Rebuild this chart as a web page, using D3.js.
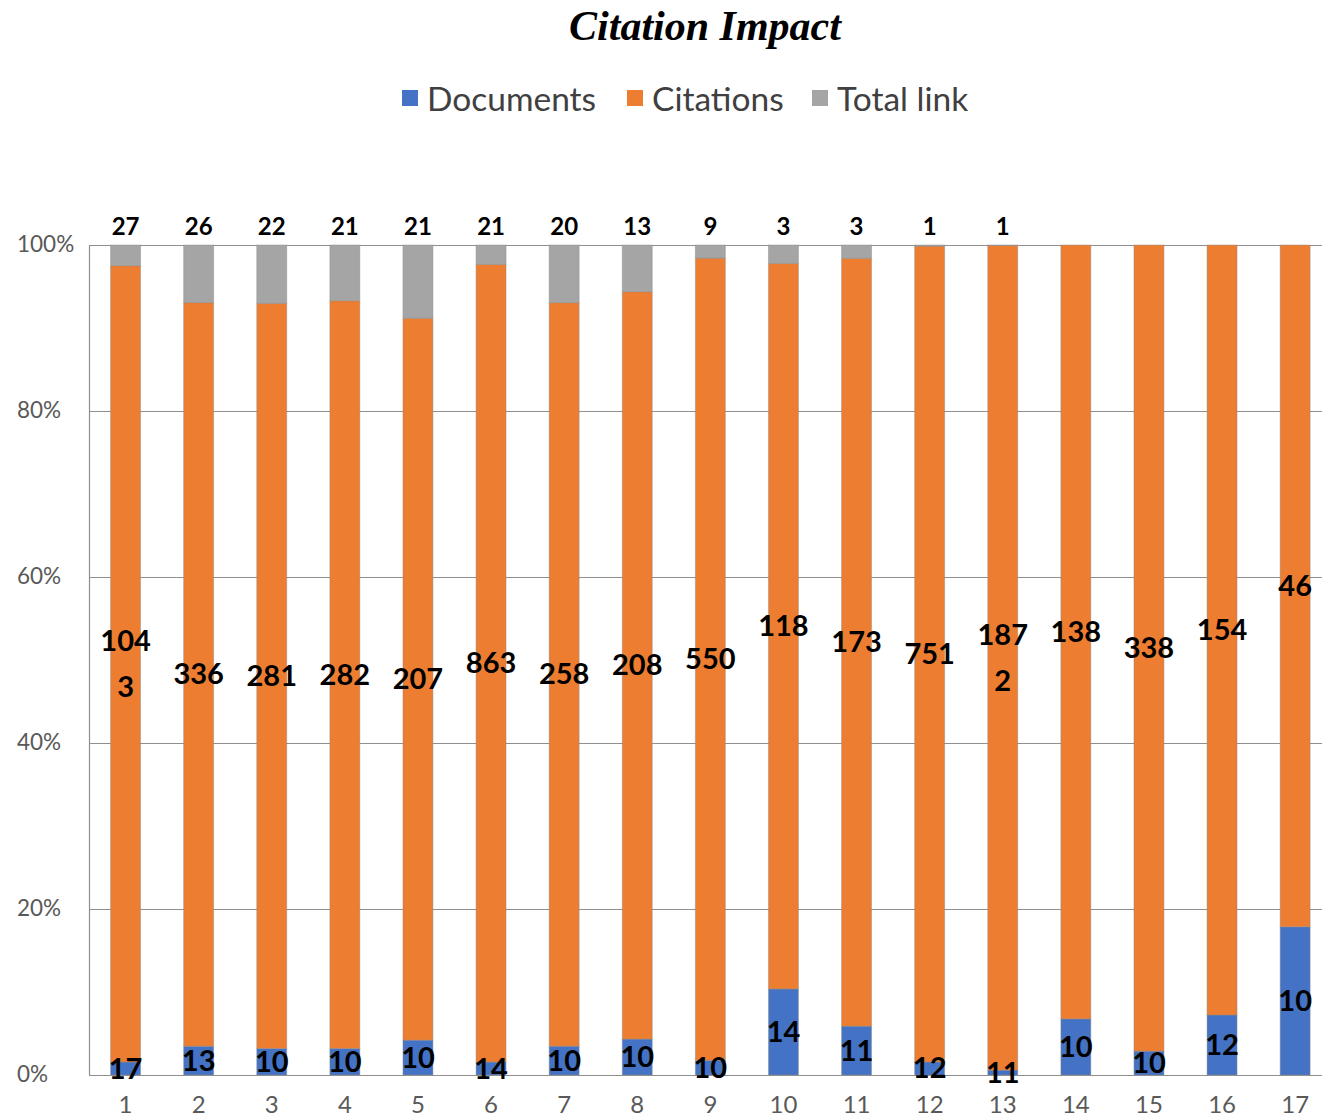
<!DOCTYPE html>
<html>
<head>
<meta charset="utf-8">
<script src="https://cdn.jsdelivr.net/npm/d3@7"></script>
<style>
  html, body { margin: 0; padding: 0; background: #fff; }
  svg { display: block; }
</style>
</head>
<body>
<svg id="chart" width="1322" height="1118"></svg>
<script>
// Citation impact per cluster: documents, citations and total link strength
const categories = ["1","2","3","4","5","6","7","8","9","10","11","12","13","14","15","16","17"];
const documents  = [17, 13, 10, 10, 10, 14, 10, 10, 10, 14, 11, 12, 11, 10, 10, 12, 10];
const citations  = [1043, 336, 281, 282, 207, 863, 258, 208, 550, 118, 173, 751, 1872, 138, 338, 154, 46];
const totalLink  = [27, 26, 22, 21, 21, 21, 20, 13, 9, 3, 3, 1, 1, 0, 0, 0, 0];
const seriesNames = ["Documents", "Citations", "Total link"];
const yTicks = [0, 0.2, 0.4, 0.6, 0.8, 1.0];

const colors = ["#4472C4", "#ED7D31", "#A5A5A5"];

const svg = d3.select("#chart");

const plot = { left: 89, top: 245, bottom: 1075, step: 73.1 };
const plotRight = plot.left + plot.step * categories.length;

const x = d3.scaleBand()
  .domain(categories)
  .range([plot.left, plotRight])
  .paddingInner(0.59)
  .paddingOuter(0.295);

const y = d3.scaleLinear().domain([0, 1]).range([plot.bottom, plot.top]);

// Normalised stacks (100% stacked columns)
const rows = categories.map((c, i) => ({
  cat: c,
  "Documents": documents[i],
  "Citations": citations[i],
  "Total link": totalLink[i]
}));
const stack = d3.stack().keys(seriesNames).offset(d3.stackOffsetExpand);
const layers = stack(rows);

// Title
svg.append("text")
  .attr("x", 705).attr("y", 40)
  .attr("text-anchor", "middle")
  .attr("font-family", "'Liberation Serif', 'Times New Roman', serif")
  .attr("font-weight", "bold").attr("font-style", "italic")
  .attr("font-size", 42)
  .attr("fill", "#000")
  .text("Citation Impact");

// Legend
const legendItems = [
  { name: "Documents", x: 402 },
  { name: "Citations", x: 627 },
  { name: "Total link", x: 812 }
];
const legend = svg.append("g");
legendItems.forEach((item, i) => {
  legend.append("rect")
    .attr("x", item.x).attr("y", 90)
    .attr("width", 16).attr("height", 16)
    .attr("fill", colors[i]);
  legend.append("text")
    .attr("x", item.x + 25).attr("y", 111)
    .attr("font-family", "Lato, 'Open Sans', sans-serif")
    .attr("font-size", 33.5)
    .attr("fill", "#404040")
    .text(item.name);
});

// Gridlines
svg.append("g")
  .selectAll("line")
  .data(yTicks.slice(1))
  .join("line")
  .attr("x1", plot.left).attr("x2", 1322)
  .attr("y1", d => Math.round(y(d)) + 0.5).attr("y2", d => Math.round(y(d)) + 0.5)
  .attr("stroke", "#8f8f8f").attr("stroke-width", 1.2);

// Y tick labels (left aligned)
svg.append("g")
  .selectAll("text")
  .data(yTicks)
  .join("text")
  .attr("x", 17)
  .attr("y", d => y(d) + 7)
  .attr("font-family", "Lato, 'Open Sans', sans-serif")
  .attr("font-size", 22.5)
  .attr("fill", "#595959")
  .text(d => d3.format(".0%")(d));

// Bars
const barG = svg.append("g");
layers.forEach((layer, li) => {
  barG.selectAll(null)
    .data(layer)
    .join("rect")
    .attr("x", d => x(d.data.cat))
    .attr("width", x.bandwidth())
    .attr("y", d => y(d[1]))
    .attr("height", d => Math.max(0, y(d[0]) - y(d[1])))
    .attr("fill", colors[li])
    .attr("stroke", "rgba(140,140,140,0.45)")
    .attr("stroke-width", 1);
});

// Axes lines
svg.append("line")
  .attr("x1", plot.left + 0.5).attr("x2", plot.left + 0.5)
  .attr("y1", plot.top).attr("y2", plot.bottom)
  .attr("stroke", "#8f8f8f").attr("stroke-width", 1.2);
svg.append("line")
  .attr("x1", plot.left).attr("x2", 1322)
  .attr("y1", plot.bottom + 0.5).attr("y2", plot.bottom + 0.5)
  .attr("stroke", "#8f8f8f").attr("stroke-width", 1.2);

// X category labels
const xAxis = d3.axisBottom(x).tickSize(0).tickPadding(0);
const xg = svg.append("g").attr("transform", `translate(0,${plot.bottom})`).call(xAxis);
xg.select(".domain").remove();
xg.selectAll("text")
  .attr("dy", null)
  .attr("y", 38)
  .attr("font-family", "Lato, 'Open Sans', sans-serif")
  .attr("font-size", 24)
  .attr("fill", "#595959");

// Data labels
const labelFont = "Lato, 'Open Sans', sans-serif";
const labels = svg.append("g")
  .attr("font-family", labelFont)
  .attr("font-weight", "bold")
  .attr("font-size", 29)
  .attr("fill", "#000")
  .attr("text-anchor", "middle");

// Documents: centred in segment
labels.selectAll(null)
  .data(layers[0])
  .join("text")
  .attr("x", d => x(d.data.cat) + x.bandwidth() / 2)
  .attr("y", d => (y(d[0]) + y(d[1])) / 2 + 10)
  .text(d => d.data["Documents"]);

// Citations: centred in segment, long numbers wrap onto a second line
layers[1].forEach(d => {
  const val = String(d.data["Citations"]);
  const cx = x(d.data.cat) + x.bandwidth() / 2;
  const cy = (y(d[0]) + y(d[1])) / 2;
  const lines = val.length > 3 ? [val.slice(0, 3), val.slice(3)] : [val];
  const lh = 46;
  const t = labels.append("text").attr("x", cx);
  lines.forEach((ln, k) => {
    t.append("tspan")
      .attr("x", cx)
      .attr("y", cy + 10 + (k - (lines.length - 1) / 2) * lh)
      .text(ln);
  });
});

// Total link: placed just above the column top
labels.selectAll(null)
  .data(layers[2].filter(d => d.data["Total link"] > 0))
  .join("text")
  .attr("font-size", 24)
  .attr("x", d => x(d.data.cat) + x.bandwidth() / 2)
  .attr("y", d => y(d[1]) - 10)
  .text(d => d.data["Total link"]);
</script>
</body>
</html>
